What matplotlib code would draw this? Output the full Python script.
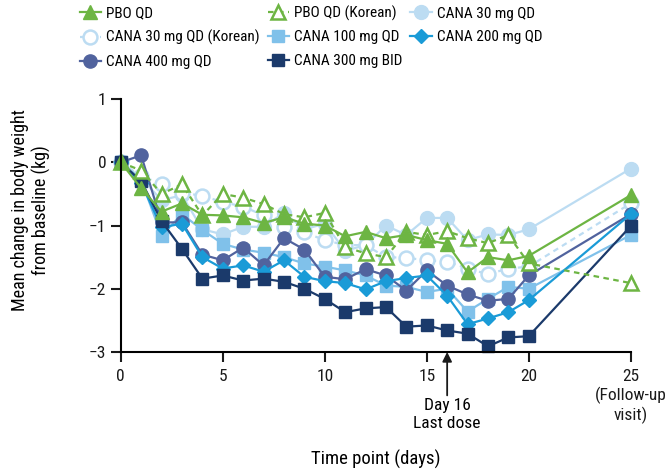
import numpy as np
import matplotlib
matplotlib.use('Agg')
import matplotlib.pyplot as plt

plt.rcParams['font.family'] = ['Roboto Condensed', 'Liberation Sans', 'DejaVu Sans']

days = [0, 1, 2, 3, 4, 5, 6, 7, 8, 9, 10, 11, 12, 13, 14, 15, 16, 17, 18, 19, 20, 25]

pbo_qd = [0, -0.41, -0.78, -0.65, -0.83, -0.84, -0.87, -0.96, -0.87, -0.97, -1.0, -1.17,
          -1.1, -1.2, -1.15, -1.23, -1.29, -1.74, -1.5, -1.55, -1.48, -0.52]
pbo_kor = [0, -0.13, -0.5, -0.35, -0.84, -0.5, -0.56, -0.66, -0.82, -0.87, -0.8, -1.34,
           -1.44, -1.5, -1.1, -1.15, -1.09, -1.2, -1.28, -1.15, -1.6, -1.91]
cana30 = [0, -0.25, -0.6, -0.52, -1.06, -1.14, -1.02, -1.02, -0.8, -1.06, -0.97, -1.4,
          -1.31, -1.0, -1.15, -0.88, -0.88, -1.23, -1.14, -1.15, -1.06, -0.1]
cana30_kor = [0, -0.22, -0.34, -0.48, -0.53, -0.63, -0.7, -0.84, -1.02, -1.11, -1.23, -1.31,
              -1.31, -1.5, -1.51, -1.55, -1.57, -1.68, -1.77, -1.68, -1.65, -0.65]
cana100 = [0, -0.28, -1.16, -0.82, -1.07, -1.29, -1.38, -1.43, -1.5, -1.6, -1.65, -1.71,
           -1.79, -1.95, -1.97, -2.05, -2.0, -2.36, -2.16, -1.97, -2.0, -1.15]
cana200 = [0, -0.33, -1.03, -0.97, -1.5, -1.68, -1.63, -1.73, -1.55, -1.81, -1.88, -1.91,
           -2.01, -1.88, -1.83, -1.79, -2.11, -2.56, -2.47, -2.37, -2.18, -0.82]
cana400 = [0, 0.11, -0.95, -0.95, -1.46, -1.55, -1.35, -1.63, -1.2, -1.38, -1.81, -1.85,
           -1.69, -1.79, -2.03, -1.71, -1.95, -2.09, -2.19, -2.16, -1.79, -0.82]
cana300_bid = [0, -0.3, -0.93, -1.37, -1.84, -1.79, -1.87, -1.84, -1.89, -2.0, -2.16, -2.37,
               -2.31, -2.29, -2.6, -2.58, -2.66, -2.71, -2.91, -2.77, -2.75, -1.01]

green = '#6db543'
light = '#bcdcf2'
mid = '#80c1ea'
blue = '#1a9bd7'
slate = '#51639e'
navy = '#1b3a6b'

fig = plt.figure(figsize=(6.71, 4.74), dpi=100)
ax = fig.add_axes([0.180, 0.2574, 0.760, 0.5336])

lw = 1.6
common = dict(lw=lw, clip_on=False)

h_c30, = ax.plot(days, cana30, color=light, marker='o', ms=10, mec=light, label='CANA 30 mg QD', **common)
h_c30k, = ax.plot(days, cana30_kor, color=light, ls=(0, (2.5, 2)), marker='o', ms=10, mfc='white',
                  mec=light, mew=1.8, label='CANA 30 mg QD (Korean)', **common)
h_c100, = ax.plot(days, cana100, color=mid, marker='s', ms=9, mec=mid, label='CANA 100 mg QD', **common)
h_c400, = ax.plot(days, cana400, color=slate, marker='o', ms=9.5, mec=slate, label='CANA 400 mg QD', **common)
h_c200, = ax.plot(days, cana200, color=blue, marker='D', ms=7.5, mec=blue, label='CANA 200 mg QD', **common)
h_c300, = ax.plot(days, cana300_bid, color=navy, marker='s', ms=9, mec=navy, label='CANA 300 mg BID', **common)
h_pbok, = ax.plot(days, pbo_kor, color=green, ls=(0, (2.5, 2)), marker='^', ms=10.5, mfc='white',
                  mec=green, mew=1.8, label='PBO QD (Korean)', **common)
h_pbo, = ax.plot(days, pbo_qd, color=green, marker='^', ms=10.5, mec=green, label='PBO QD', **common)

ax.set_xlim(0, 25)
ax.set_ylim(-3, 1)
ax.set_xticks([0, 5, 10, 15, 20, 25])
ax.set_xticklabels(['0', '5', '10', '15', '20', '25\n(Follow-up\nvisit)'], multialignment='center')
ax.set_yticks([1, 0, -1, -2, -3])
ax.set_yticklabels(['1', '0', '\u22121', '\u22122', '\u22123'])

for s in ['top', 'right']:
    ax.spines[s].set_visible(False)
for s in ['left', 'bottom']:
    ax.spines[s].set_linewidth(1.5)
ax.tick_params(axis='both', direction='out', length=7, width=1.5, labelsize=12.5, colors='#1a1a1a')
ax.tick_params(axis='x', pad=5)

ax.set_xlabel('Time point (days)', fontsize=13.5, labelpad=19)
ax.set_ylabel('Mean change in body weight\nfrom baseline (kg)', fontsize=13)
ax.yaxis.set_label_coords(-0.137, 0.56)

ax.annotate('Day 16\nLast dose', xy=(16, -3), xytext=(16, -3.73), textcoords='data',
            ha='center', va='top', fontsize=12.5, annotation_clip=False,
            arrowprops=dict(arrowstyle='-|>', color='#1a1a1a', lw=1.3, mutation_scale=14,
                            shrinkA=0, shrinkB=0))

handles = [h_pbo, h_c30k, h_c400, h_pbok, h_c100, h_c300, h_c30, h_c200]
fig.legend(handles=handles, labels=[h.get_label() for h in handles], ncol=3,
           loc='upper left', bbox_to_anchor=(0.098, 1.017), frameon=False, fontsize=11,
           handlelength=1.4, handletextpad=0.35, columnspacing=0.5, labelspacing=0.62)

fig.savefig('out.png', dpi=100)
